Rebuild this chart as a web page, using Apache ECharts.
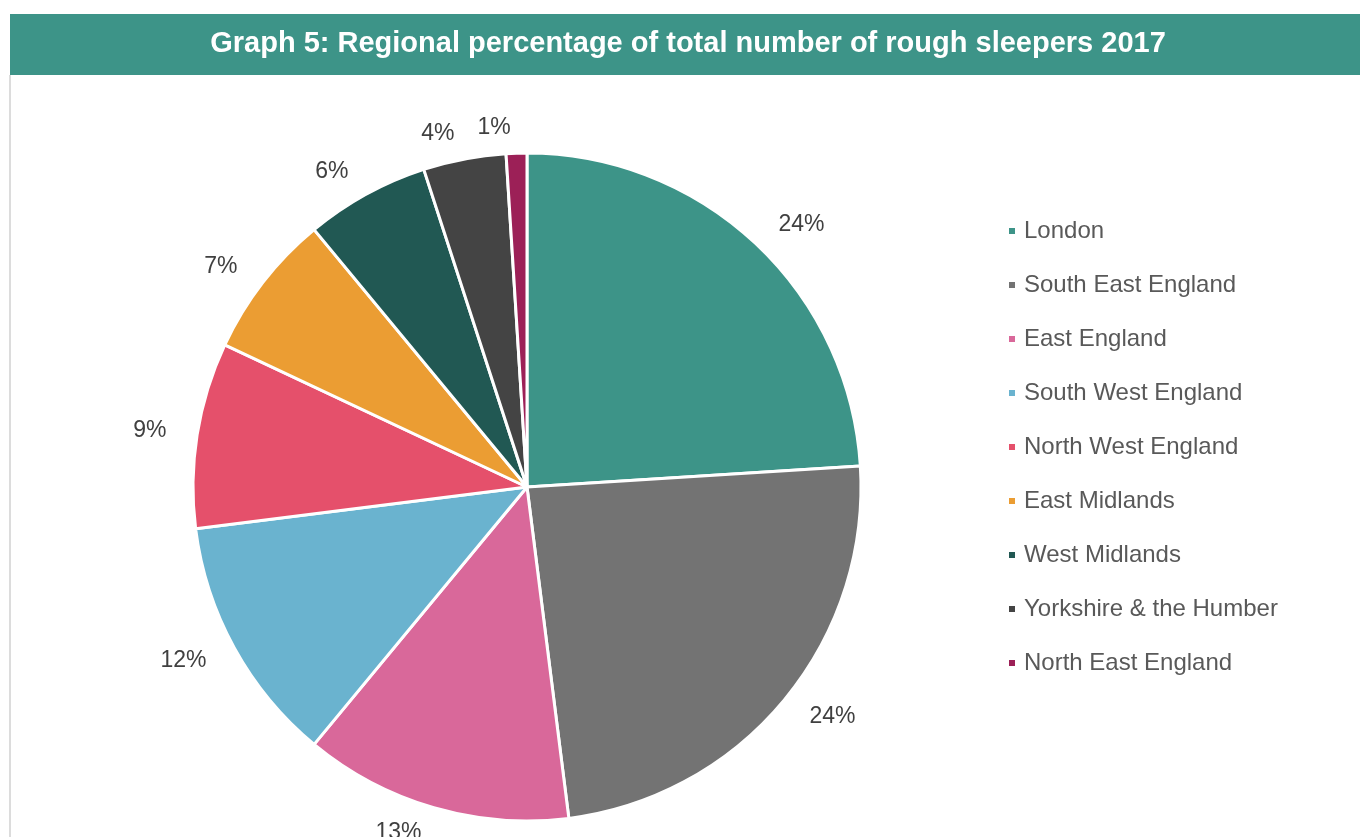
<!DOCTYPE html>
<html>
<head>
<meta charset="utf-8">
<script src="https://cdn.jsdelivr.net/npm/echarts@6/dist/echarts.min.js"></script>
<style>
  html, body { margin: 0; padding: 0; background: #fff; }
  #chart { width: 1360px; height: 837px; }
</style>
</head>
<body>
<div id="chart"></div>
<script>
// regions and their share of rough sleepers (percent)
const regions = ['London', 'South East England', 'East England', 'South West England',
  'North West England', 'East Midlands', 'West Midlands', 'Yorkshire & the Humber', 'North East England'];
const shares = [24, 24, 13, 12, 9, 7, 6, 4, 1];
const colors = ['#3d9488', '#737373', '#d9689a', '#6ab3cf', '#e5506b', '#eb9d33', '#215853', '#444444', '#9c2057'];

const titleText = 'Graph 5: Regional percentage of total number of rough sleepers 2017';

let chart = echarts.init(document.getElementById('chart'));
chart.setOption({
  animation: false,
  color: colors,
  graphic: [
    // title bar
    { type: 'rect', shape: { x: 10, y: 14, width: 1350, height: 61 }, style: { fill: '#3d9488' } },
    { type: 'text', x: 688, y: 44, style: {
        text: titleText, fill: '#fff', font: 'bold 29px "Liberation Sans", Arial, sans-serif',
        textAlign: 'center', textVerticalAlign: 'middle' } },
    // thin left border of the panel
    { type: 'rect', shape: { x: 9, y: 75, width: 2, height: 770 }, style: { fill: '#dcdcdc' } }
  ],
  legend: {
    orient: 'vertical',
    left: 1002,
    top: 214,
    itemWidth: 8,
    itemHeight: 8,
    itemGap: 30,
    icon: 'rect',
    textStyle: { fontSize: 24, color: '#595959', fontFamily: '"Liberation Sans", Arial, sans-serif', padding: [0, 0, 0, 3] },
    data: regions
  },
  series: [{
    type: 'pie',
    center: [527, 487],
    radius: 334,
    startAngle: 90,
    clockwise: true,
    avoidLabelOverlap: false,
    itemStyle: { borderColor: '#fff', borderWidth: 3 },
    label: {
      show: true,
      position: 'outside',
      formatter: p => p.value + '%',
      fontSize: 23,
      color: '#404040',
      fontFamily: '"Liberation Sans", Arial, sans-serif'
    },
    labelLine: { show: false, length: 26, length2: 0 },
    data: regions.map((r, i) => ({ name: r, value: shares[i] }))
  }]
});
</script>
</body>
</html>
